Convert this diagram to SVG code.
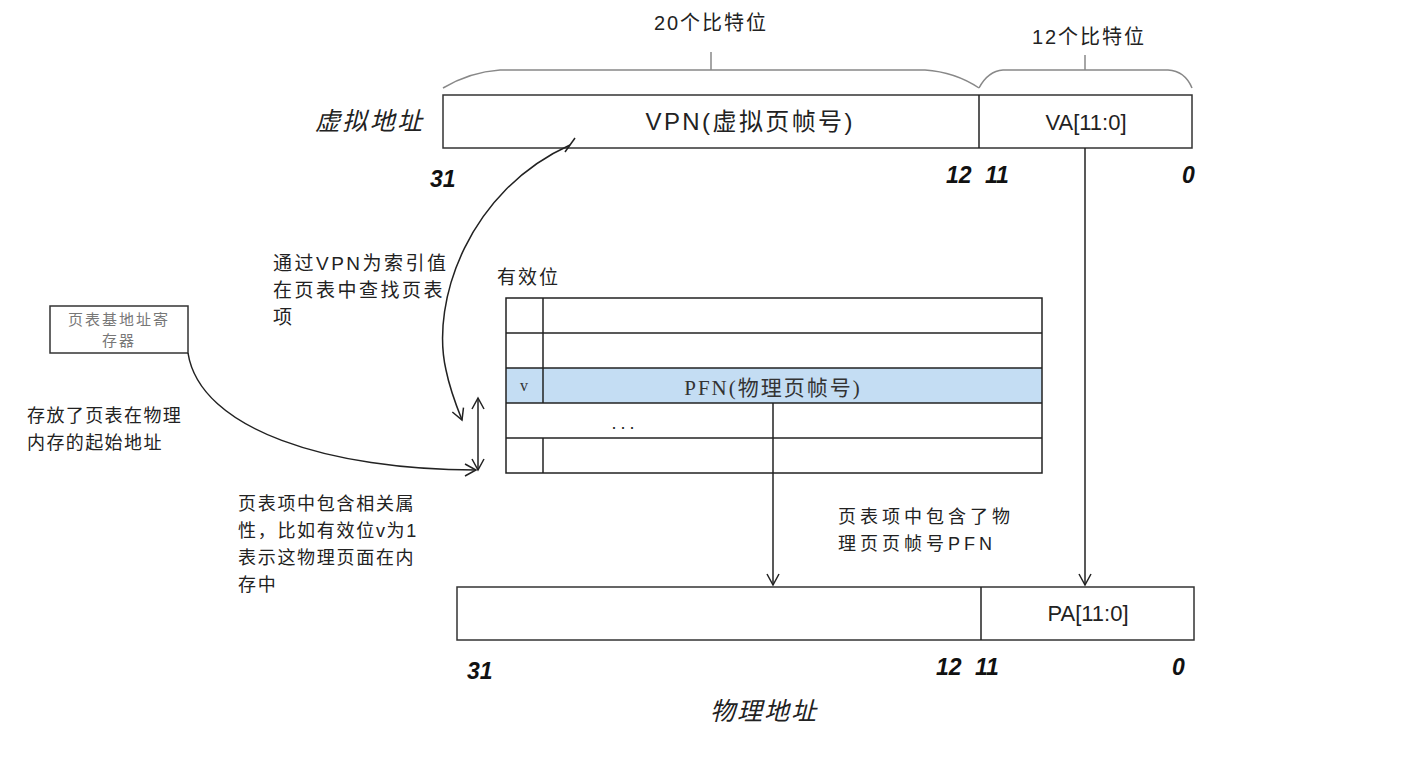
<svg xmlns="http://www.w3.org/2000/svg" width="1411" height="765" viewBox="0 0 1411 765">
<style>
.box{fill:#fff;stroke:#333;stroke-width:1.5}
.ln{fill:none;stroke:#222;stroke-width:1.5}
.br{fill:none;stroke:#888;stroke-width:1.5}
.t{font-family:"Liberation Sans","Noto Sans CJK SC",sans-serif;fill:#222}
.bit{font-family:"Liberation Sans",sans-serif;font-weight:bold;font-style:italic;font-size:23px;fill:#111}
.ser{font-family:"Liberation Serif","Noto Sans CJK SC",serif}
</style>
<defs>
<marker id="ah" markerWidth="14" markerHeight="14" refX="12" refY="7" orient="auto-start-reverse" markerUnits="userSpaceOnUse">
<path d="M1,1 L12,7 L1,13" fill="none" stroke="#222" stroke-width="1.5"/>
</marker>
</defs>
<rect width="1411" height="765" fill="#fff"/>

<g id="braces">
<path class="br" d="M443,88 Q470,72 500,70 L925,70 Q955,72 979,88"/>
<line class="br" x1="711" y1="52" x2="711" y2="70"/>
<path class="br" d="M979,88 Q988,71 1003,70 L1168,70 Q1185,71 1192,88"/>
<line class="br" x1="1085" y1="55" x2="1085" y2="70"/>
<text class="t" x="711" y="30" font-size="20" text-anchor="middle" letter-spacing="2">20个比特位</text>
<text class="t" x="1089" y="44" font-size="20" text-anchor="middle" letter-spacing="2">12个比特位</text>
</g>

<g id="va">
<rect class="box" x="443" y="95" width="749" height="53"/>
<line class="ln" x1="979" y1="95" x2="979" y2="148"/>
<text class="t" x="749" y="130" font-size="24" text-anchor="middle" textLength="207" lengthAdjust="spacing">VPN(虚拟页帧号)</text>
<text class="t" x="1086" y="130" font-size="22" text-anchor="middle">VA[11:0]</text>
<text class="t" x="315" y="130" font-size="25" font-style="italic" textLength="107" lengthAdjust="spacing">虚拟地址</text>
<text class="bit" x="430" y="187">31</text>
<text class="bit" x="946" y="183">12</text>
<text class="bit" x="985" y="183">11</text>
<text class="bit" x="1182" y="183">0</text>
</g>

<g id="pagetable">
<rect x="506" y="368" width="536" height="35" fill="#c4ddf3"/>
<rect x="506" y="298" width="536" height="175" fill="none" stroke="#222" stroke-width="1.5"/>
<line class="ln" x1="506" y1="333" x2="1042" y2="333"/>
<line class="ln" x1="506" y1="368" x2="1042" y2="368"/>
<line class="ln" x1="506" y1="403" x2="1042" y2="403"/>
<line class="ln" x1="506" y1="438" x2="1042" y2="438"/>
<line class="ln" x1="543" y1="298" x2="543" y2="403"/>
<line class="ln" x1="543" y1="438" x2="543" y2="473"/>
<text class="ser" x="524" y="391" font-size="16" text-anchor="middle" fill="#333">v</text>
<text class="ser" x="773" y="395" font-size="21" text-anchor="middle" fill="#333" letter-spacing="2">PFN(物理页帧号)</text>
<text class="t" x="625" y="429" font-size="18" text-anchor="middle" letter-spacing="4">...</text>
<text class="t" x="497" y="284" font-size="19" letter-spacing="2">有效位</text>
</g>

<g id="register">
<rect class="box" x="50" y="306" width="138" height="47"/>
<text class="ser" x="119" y="325" font-size="15" text-anchor="middle" fill="#777" letter-spacing="2">页表基地址寄</text>
<text class="ser" x="119" y="346" font-size="15" text-anchor="middle" fill="#777" letter-spacing="2">存器</text>
</g>

<g id="pa">
<rect class="box" x="457" y="587" width="737" height="53"/>
<line class="ln" x1="981" y1="587" x2="981" y2="640"/>
<text class="t" x="1088" y="621" font-size="22" text-anchor="middle">PA[11:0]</text>
<text class="bit" x="467" y="679">31</text>
<text class="bit" x="936" y="675">12</text>
<text class="bit" x="975" y="675">11</text>
<text class="bit" x="1172" y="675">0</text>
<text class="t" x="710" y="720" font-size="25" font-style="italic" textLength="106" lengthAdjust="spacing">物理地址</text>
</g>

<g id="notes">
<text class="t" font-size="19" letter-spacing="2.5">
<tspan x="273" y="270">通过VPN为索引值</tspan>
<tspan x="273" y="297">在页表中查找页表</tspan>
<tspan x="273" y="324">项</tspan>
</text>
<text class="t" font-size="18" letter-spacing="1.4">
<tspan x="27" y="422">存放了页表在物理</tspan>
<tspan x="27" y="449">内存的起始地址</tspan>
</text>
<text class="t" font-size="18" letter-spacing="1.7">
<tspan x="238" y="510">页表项中包含相关属</tspan>
<tspan x="238" y="537">性，比如有效位v为1</tspan>
<tspan x="238" y="564">表示这物理页面在内</tspan>
<tspan x="238" y="591">存中</tspan>
</text>
<text class="t" font-size="18" letter-spacing="4">
<tspan x="838" y="523">页表项中包含了物</tspan>
<tspan x="838" y="550">理页页帧号PFN</tspan>
</text>
</g>

<g id="connectors">
<path class="ln" d="M570,145 C470,190 430,300 446,370 C450,390 456,405 462,420" marker-end="url(#ah)"/>
<line class="ln" x1="565" y1="152" x2="575" y2="138"/>
<path class="ln" d="M188,353 C200,430 330,470 476,470" marker-end="url(#ah)"/>
<line class="ln" x1="478" y1="398" x2="478" y2="470" marker-start="url(#ah)" marker-end="url(#ah)"/>
<line class="ln" x1="773" y1="403" x2="773" y2="585" marker-end="url(#ah)"/>
<line class="ln" x1="1085" y1="148" x2="1085" y2="585" marker-end="url(#ah)"/>
</g>
</svg>
